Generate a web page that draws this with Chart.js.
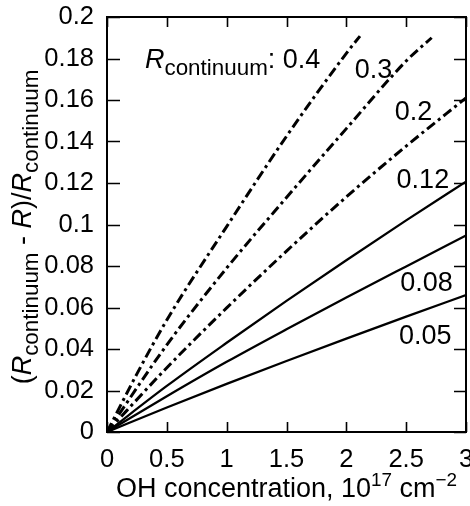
<!DOCTYPE html>
<html>
<head>
<meta charset="utf-8">
<script src="https://cdn.jsdelivr.net/npm/chart.js@4/dist/chart.umd.min.js"></script>
<style>
  html, body { margin: 0; padding: 0; background: #fff; }
  #wrap { width: 470px; height: 506px; }
</style>
</head>
<body>
<div id="wrap"><canvas id="chart" width="470" height="506"></canvas></div>
<script>
// OH concentration (1e17 cm^-2) vs. relative depth, one curve per R_continuum
const xFull = [0, 0.5, 1, 1.5, 2, 2.5, 3];
const r005 = [0, 0.0118, 0.0232, 0.0342, 0.0450, 0.0556, 0.0660];
const r008 = [0, 0.0172, 0.0338, 0.0495, 0.0648, 0.0798, 0.0947];
const r012 = [0, 0.0222, 0.0430, 0.0632, 0.0828, 0.1020, 0.1206];
const r020 = [0, 0.0310, 0.0598, 0.0872, 0.1133, 0.1378, 0.1610];
const x030 = [0, 0.5, 1, 1.5, 2, 2.5, 2.713];
const r030 = [0, 0.0420, 0.0790, 0.1130, 0.1462, 0.1788, 0.1900];
const x040 = [0, 0.25, 0.5, 1, 1.5, 2, 2.114];
const r040 = [0, 0.0280, 0.0540, 0.0990, 0.1425, 0.1825, 0.1908];

const xTicks = [0, 0.5, 1, 1.5, 2, 2.5, 3];
const yTicks = [0, 0.02, 0.04, 0.06, 0.08, 0.1, 0.12, 0.14, 0.16, 0.18, 0.2];

// curve labels: [text, x, y] in data units (left edge / baseline)
const curveLabels = [
  ['0.3', 2.07, 0.1706],
  ['0.2', 2.405, 0.1504],
  ['0.12', 2.42, 0.1176],
  ['0.08', 2.45, 0.068],
  ['0.05', 2.44, 0.0424],
];

const FONT = '"Liberation Sans", Arial, Helvetica, sans-serif';
const FS = 27;
const TICK_FS = 25.5;
const SUB = 0.83;

const pts = (xs, ys) => xs.map((x, i) => ({ x, y: ys[i] }));
const dashDot = [10, 4, 3, 4];

function series(data, dashed) {
  return {
    data,
    borderColor: '#000',
    borderWidth: dashed ? 3 : 2.3,
    borderDash: dashed ? dashDot : [],
    borderCapStyle: 'butt',
    pointRadius: 0,
    fill: false,
    cubicInterpolationMode: 'monotone',
  };
}

// draws a run of text pieces: { t, it (italic), sub, sup }
function drawRich(ctx, parts, x, y, size, align) {
  const fontFor = p => {
    const s = p.sub ? size * SUB : (p.sup ? size * 0.7 : size);
    return (p.it ? 'italic ' : '') + s + 'px ' + FONT;
  };
  let total = 0;
  parts.forEach(p => { ctx.font = fontFor(p); total += ctx.measureText(p.t).width; });
  let cx = align === 'center' ? x - total / 2 : x;
  ctx.textAlign = 'left';
  ctx.textBaseline = 'alphabetic';
  parts.forEach(p => {
    ctx.font = fontFor(p);
    const dy = p.sub ? size * 0.26 : (p.sup ? -size * 0.42 : 0);
    ctx.fillText(p.t, cx, y + dy);
    cx += ctx.measureText(p.t).width;
  });
}

const framePlugin = {
  id: 'frame',
  afterDatasetsDraw(chart) {
    const { ctx, chartArea: a, scales } = chart;
    ctx.save();
    ctx.strokeStyle = '#000';
    ctx.lineWidth = 2;
    ctx.strokeRect(a.left, a.top, a.right - a.left, a.bottom - a.top);
    ctx.lineWidth = 1.6;
    ctx.beginPath();
    xTicks.forEach(v => {
      const px = Math.round(scales.x.getPixelForValue(v)) + 0.5;
      ctx.moveTo(px, a.bottom); ctx.lineTo(px, a.bottom - 10);
      ctx.moveTo(px, a.top); ctx.lineTo(px, a.top + 10);
    });
    yTicks.forEach(v => {
      const py = Math.round(scales.y.getPixelForValue(v)) + 0.5;
      ctx.moveTo(a.left, py); ctx.lineTo(a.left + 13, py);
      ctx.moveTo(a.right, py); ctx.lineTo(a.right - 12, py);
    });
    ctx.stroke();

    ctx.fillStyle = '#000';
    // curve labels
    const X = scales.x, Y = scales.y;
    drawRich(ctx, [{ t: 'R', it: true }, { t: 'continuum', sub: true }, { t: ': 0.4' }],
      X.getPixelForValue(0.317), Y.getPixelForValue(0.1754), FS, 'left');
    curveLabels.forEach(([t, x, y]) => {
      drawRich(ctx, [{ t }], X.getPixelForValue(x), Y.getPixelForValue(y), FS, 'left');
    });

    // axis titles
    drawRich(ctx, [{ t: 'OH concentration, 10' }, { t: '17', sup: true }, { t: ' cm' }, { t: '\u22122', sup: true }],
      (a.left + a.right) / 2, 497, FS, 'center');
    ctx.translate(31, 227);
    ctx.rotate(-Math.PI / 2);
    drawRich(ctx, [
      { t: '(' }, { t: 'R', it: true }, { t: 'continuum', sub: true },
      { t: ' - ' }, { t: 'R', it: true }, { t: ')/' },
      { t: 'R', it: true }, { t: 'continuum', sub: true },
    ], 0, 0, FS, 'center');
    ctx.restore();
  }
};

new Chart(document.getElementById('chart'), {
  type: 'line',
  data: {
    datasets: [
      series(pts(xFull, r005), false),
      series(pts(xFull, r008), false),
      series(pts(xFull, r012), false),
      series(pts(xFull, r020), true),
      series(pts(x030, r030), true),
      series(pts(x040, r040), true),
    ]
  },
  options: {
    responsive: false,
    animation: false,
    layout: { padding: { top: 17, right: 4, left: 0, bottom: 0 } },
    plugins: { legend: { display: false }, tooltip: { enabled: false } },
    scales: {
      x: {
        type: 'linear', min: 0, max: 3,
        afterBuildTicks: s => { s.ticks = xTicks.map(value => ({ value })); },
        afterFit: s => { s.height = 74; s.paddingLeft = 0; s.paddingRight = 0; },
        grid: { display: false },
        border: { display: false },
        ticks: {
          color: '#000', padding: 5, maxRotation: 0,
          font: { family: FONT, size: TICK_FS },
          callback: v => String(+v.toFixed(1)),
        },
      },
      y: {
        type: 'linear', min: 0, max: 0.2,
        afterBuildTicks: s => { s.ticks = yTicks.map(value => ({ value })); },
        afterFit: s => { s.width = 107; s.paddingTop = 0; s.paddingBottom = 0; },
        grid: { display: false },
        border: { display: false },
        ticks: {
          color: '#000', padding: 5,
          font: { family: FONT, size: TICK_FS },
          callback: v => String(+v.toFixed(2)),
        },
      }
    }
  },
  plugins: [framePlugin]
});
</script>
</body>
</html>
